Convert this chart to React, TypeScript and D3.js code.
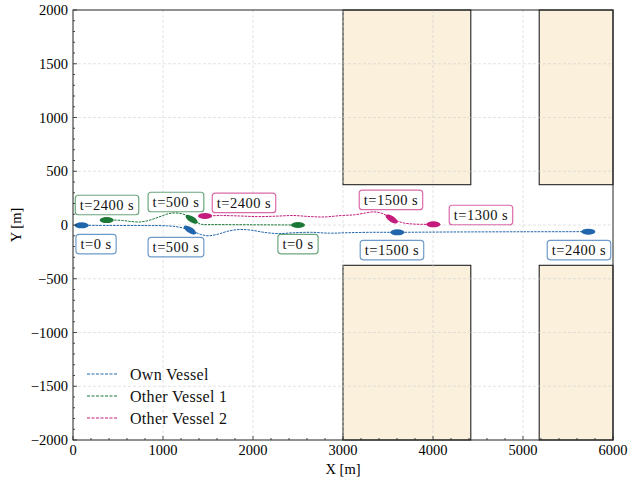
import React, { useEffect, useRef } from 'react';
import * as d3 from 'd3';

// axis ticks
const xTicks = [0, 1000, 2000, 3000, 4000, 5000, 6000];
const yTicks = [-2000, -1500, -1000, -500, 0, 500, 1000, 1500, 2000];

// obstacles (x0, x1, y0, y1) in metres
const obstacles = [
  [3000, 4420, 375, 2000],
  [3000, 4420, -2000, -375],
  [5180, 6000, 375, 2000],
  [5180, 6000, -2000, -375],
];

// trajectories
const ownPath = [
  [96, -3], [400, -4], [800, -5], [1050, -8], [1180, -20], [1300, -47], [1420, -88],
  [1500, -100], [1600, -88], [1720, -58], [1850, -42], [1980, -48], [2120, -68],
  [2280, -80], [2450, -72], [2650, -68], [2850, -76], [3050, -72], [3300, -68],
  [3604, -68], [4200, -65], [5000, -63], [5726, -62],
];
const other1Path = [
  [2500, 0], [2000, 2], [1600, 4], [1420, 8], [1370, 30], [1319, 53], [1270, 85],
  [1210, 105], [1130, 112], [1060, 105], [980, 82], [900, 58], [820, 38], [740, 28],
  [650, 32], [550, 42], [450, 46], [374, 46],
];
const other2Path = [
  [4004, 6], [3800, 8], [3680, 18], [3610, 35], [3541, 56], [3480, 90], [3420, 112],
  [3340, 122], [3250, 112], [3130, 95], [2980, 88], [2800, 75], [2640, 78], [2450, 88],
  [2250, 82], [2050, 78], [1850, 84], [1650, 88], [1467, 84],
];

// snapshots: time, position, tilt (deg), label position
const ownSnaps = [
  { t: 0, x: 96, y: -3, tilt: 0, lx: 256, ly: -177 },
  { t: 500, x: 1300, y: -47, tilt: 32, lx: 1144, ly: -205 },
  { t: 1500, x: 3604, y: -68, tilt: 0, lx: 3544, ly: -233 },
  { t: 2400, x: 5726, y: -62, tilt: 0, lx: 5622, ly: -233 },
];
const other1Snaps = [
  { t: 0, x: 2500, y: 0, tilt: 0, lx: 2500, ly: -177 },
  { t: 500, x: 1319, y: 53, tilt: 32, lx: 1144, ly: 214 },
  { t: 2400, x: 374, y: 46, tilt: 0, lx: 378, ly: 186 },
];
const other2Snaps = [
  { t: 1300, x: 4004, y: 6, tilt: 0, lx: 4533, ly: 93 },
  { t: 1500, x: 3541, y: 56, tilt: 33, lx: 3533, ly: 233 },
  { t: 2400, x: 1467, y: 84, tilt: 0, lx: 1900, ly: 205 },
];

const vessels = [
  { name: 'Own Vessel', color: '#2166ac', path: ownPath, snaps: ownSnaps },
  { name: 'Other Vessel 1', color: '#1b7837', path: other1Path, snaps: other1Snaps },
  { name: 'Other Vessel 2', color: '#c51b7d', path: other2Path, snaps: other2Snaps },
];

const FONT = '"Liberation Serif", "Times New Roman", serif';

export default function App() {
  const svgRef = useRef<SVGSVGElement>(null);

  useEffect(() => {
    const W = 629;
    const H = 481;
    const margin = { top: 10, right: 16, bottom: 41, left: 73 };
    const svg = d3.select(svgRef.current).attr('width', W).attr('height', H);
    svg.selectAll('*').remove();

    const x = d3.scaleLinear().domain([0, 6000]).range([margin.left, W - margin.right]);
    const y = d3.scaleLinear().domain([-2000, 2000]).range([H - margin.bottom, margin.top]);
    const [x0, x1] = x.range();
    const [y0, y1] = [y(2000), y(-2000)];

    svg.append('rect').attr('width', W).attr('height', H).attr('fill', 'white');

    // obstacles
    svg
      .selectAll('.obst')
      .data(obstacles)
      .enter()
      .append('rect')
      .attr('x', (d) => x(d[0]))
      .attr('y', (d) => y(d[3]))
      .attr('width', (d) => x(d[1]) - x(d[0]))
      .attr('height', (d) => y(d[2]) - y(d[3]))
      .attr('fill', '#faf0dc')
      .attr('stroke', '#222')
      .attr('stroke-width', 1.1);

    // grid
    const grid = svg.append('g').attr('stroke', '#d2d2d2').attr('stroke-width', 0.6).attr('stroke-dasharray', '3,2');
    xTicks.slice(1, -1).forEach((t) => {
      grid.append('line').attr('x1', x(t)).attr('x2', x(t)).attr('y1', y0).attr('y2', y1);
    });
    yTicks.slice(1, -1).forEach((t) => {
      grid.append('line').attr('x1', x0).attr('x2', x1).attr('y1', y(t)).attr('y2', y(t));
    });

    // trajectories
    const line = d3
      .line()
      .x((d: any) => x(d[0]))
      .y((d: any) => y(d[1]))
      .curve(d3.curveCatmullRom.alpha(0.5));
    vessels.forEach((v) => {
      svg
        .append('path')
        .attr('d', line(v.path as any))
        .attr('fill', 'none')
        .attr('stroke', v.color)
        .attr('stroke-width', 1)
        .attr('stroke-dasharray', '2.5,1');
    });

    // vessel markers
    vessels.forEach((v) => {
      svg
        .selectAll(null)
        .data(v.snaps)
        .enter()
        .append('ellipse')
        .attr('transform', (d) => `translate(${x(d.x)},${y(d.y)}) rotate(${d.tilt})`)
        .attr('rx', 7)
        .attr('ry', 3)
        .attr('fill', v.color);
    });

    // labels
    vessels.forEach((v) => {
      v.snaps.forEach((d) => {
        const g = svg.append('g').attr('transform', `translate(${x(d.lx)},${y(d.ly)})`);
        const rect = g.append('rect');
        const txt = g
          .append('text')
          .attr('text-anchor', 'middle')
          .attr('dominant-baseline', 'central')
          .attr('font-family', FONT)
          .attr('font-size', 14.5)
          .attr('letter-spacing', 0.5)
          .attr('fill', '#111')
          .text(`t=${d.t} s`);
        const bb = (txt.node() as SVGTextElement).getBBox();
        const w = bb.width + 9;
        const h = 19.5;
        rect
          .attr('x', -w / 2)
          .attr('y', -h / 2)
          .attr('width', w)
          .attr('height', h)
          .attr('rx', 3)
          .attr('fill', 'white')
          .attr('stroke', v.color)
          .attr('stroke-opacity', 0.65)
          .attr('stroke-width', 1.2);
      });
    });

    // frame
    svg
      .append('rect')
      .attr('x', x0)
      .attr('y', y0)
      .attr('width', x1 - x0)
      .attr('height', y1 - y0)
      .attr('fill', 'none')
      .attr('stroke', '#222')
      .attr('stroke-width', 1);

    // ticks (inward, left and bottom only)
    const ticks = svg.append('g').attr('stroke', '#222').attr('stroke-width', 0.8);
    d3.range(0, 6001, 200).forEach((t) => {
      const len = t % 1000 === 0 ? 4 : 2;
      ticks.append('line').attr('x1', x(t)).attr('x2', x(t)).attr('y1', y1).attr('y2', y1 - len);
    });
    d3.range(-2000, 2001, 100).forEach((t) => {
      const len = t % 500 === 0 ? 4 : 2;
      ticks.append('line').attr('x1', x0).attr('x2', x0 + len).attr('y1', y(t)).attr('y2', y(t));
    });

    const fmt = (t: number) => (t < 0 ? `\u2212${Math.abs(t)}` : `${t}`);
    svg
      .selectAll('.xtl')
      .data(xTicks)
      .enter()
      .append('text')
      .attr('x', (d) => x(d))
      .attr('y', y1 + 15)
      .attr('text-anchor', 'middle')
      .attr('font-family', FONT)
      .attr('font-size', 14.5)
      .text(fmt);
    svg
      .selectAll('.ytl')
      .data(yTicks)
      .enter()
      .append('text')
      .attr('x', x0 - 5)
      .attr('y', (d) => y(d))
      .attr('dy', '0.35em')
      .attr('text-anchor', 'end')
      .attr('font-family', FONT)
      .attr('font-size', 14.5)
      .text(fmt);

    svg
      .append('text')
      .attr('x', (x0 + x1) / 2)
      .attr('y', 474)
      .attr('text-anchor', 'middle')
      .attr('font-family', FONT)
      .attr('font-size', 14.5)
      .text('X [m]');
    svg
      .append('text')
      .attr('transform', `translate(21,${(y0 + y1) / 2}) rotate(-90)`)
      .attr('text-anchor', 'middle')
      .attr('font-family', FONT)
      .attr('font-size', 14.5)
      .text('Y [m]');

    // legend
    const legend = svg.append('g');
    vessels.forEach((v, i) => {
      const ly = 374 + i * 22;
      legend
        .append('line')
        .attr('x1', 87)
        .attr('x2', 117)
        .attr('y1', ly)
        .attr('y2', ly)
        .attr('stroke', v.color)
        .attr('stroke-width', 1)
        .attr('stroke-dasharray', '3,1.5');
      legend
        .append('text')
        .attr('x', 130)
        .attr('y', ly)
        .attr('dy', '0.35em')
        .attr('font-family', FONT)
        .attr('font-size', 16)
        .attr('letter-spacing', 0.3)
        .attr('fill', '#111')
        .text(v.name);
    });
  }, []);

  return (
    <div style={{ position: 'absolute', left: 0, top: 0 }}>
      <svg ref={svgRef}></svg>
    </div>
  );
}
